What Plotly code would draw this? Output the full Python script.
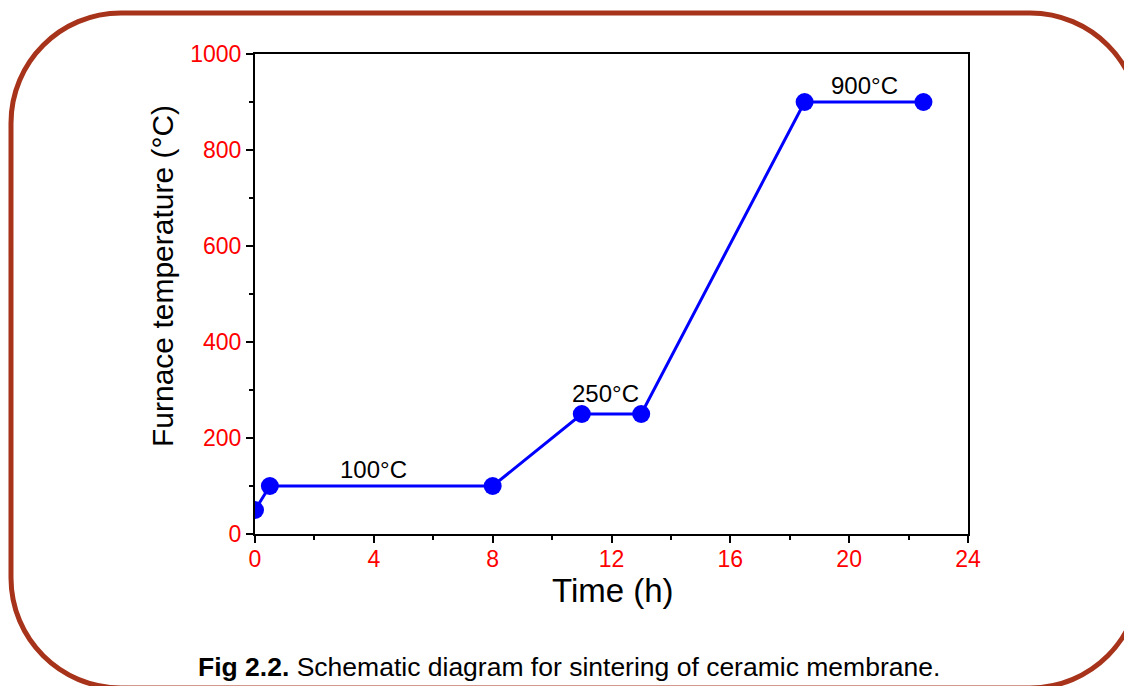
import plotly.graph_objects as go

# Sintering schedule: time (h) vs furnace temperature (°C)
time_h = [0, 0.5, 8, 11, 13, 18.5, 22.5]
temp_c = [50, 100, 100, 250, 250, 900, 900]

# Dwell labels: (x position in h, temperature of the dwell)
dwell_x = [4, 11.8, 20.5]
dwell_t = [100, 250, 900]

x_ticks = [0, 4, 8, 12, 16, 20, 24]
y_ticks = [0, 200, 400, 600, 800, 1000]

W, H = 1124, 686
L, R, T, B = 255, 968, 54, 534  # plot area in pixels
FONT = "Liberation Sans, Arial, sans-serif"


def px(xp):
    return (xp - L) / (R - L)


def py(yp):
    return (B - yp) / (B - T)


def rounded_rect(x0, y0, x1, y1, r):
    k = 0.5523 * r
    pts = [
        f"M {px(x0 + r)},{py(y0)}",
        f"L {px(x1 - r)},{py(y0)}",
        f"C {px(x1 - r + k)},{py(y0)} {px(x1)},{py(y0 + r - k)} {px(x1)},{py(y0 + r)}",
        f"L {px(x1)},{py(y1 - r)}",
        f"C {px(x1)},{py(y1 - r + k)} {px(x1 - r + k)},{py(y1)} {px(x1 - r)},{py(y1)}",
        f"L {px(x0 + r)},{py(y1)}",
        f"C {px(x0 + r - k)},{py(y1)} {px(x0)},{py(y1 - r + k)} {px(x0)},{py(y1 - r)}",
        f"L {px(x0)},{py(y0 + r)}",
        f"C {px(x0)},{py(y0 + r - k)} {px(x0 + r - k)},{py(y0)} {px(x0 + r)},{py(y0)}",
        "Z",
    ]
    return " ".join(pts)


fig = go.Figure()
fig.add_trace(go.Scatter(
    x=time_h, y=temp_c, mode="lines+markers",
    line=dict(color="#0000FF", width=3),
    marker=dict(color="#0000FF", size=18, symbol="circle"),
    cliponaxis=True, showlegend=False,
))

label_shift = [1, 5, 1]
for xv, tv, sh in zip(dwell_x, dwell_t, label_shift):
    fig.add_annotation(
        x=xv, y=tv, text=f"{tv}°C", showarrow=False,
        xanchor="center", yanchor="bottom", yshift=sh,
        font=dict(family=FONT, size=24, color="black"),
    )

# Axis titles
fig.add_annotation(
    xref="paper", yref="paper", x=px(162), y=py(276),
    text="Furnace temperature (°C)", textangle=-90, showarrow=False,
    xanchor="center", yanchor="middle",
    font=dict(family=FONT, size=30, color="black"),
)
fig.add_annotation(
    xref="paper", yref="paper", x=px(613), y=py(590),
    text="Time (h)", showarrow=False, xanchor="center", yanchor="middle",
    font=dict(family=FONT, size=33, color="black"),
)

# Figure caption
fig.add_annotation(
    xref="paper", yref="paper", x=px(569), y=py(667),
    text="<b>Fig 2.2.</b> Schematic diagram for sintering of ceramic membrane.",
    showarrow=False, xanchor="center", yanchor="middle",
    font=dict(family=FONT, size=26.5, color="black"),
)

# Rounded frame around the figure
fig.add_shape(
    type="path", xref="paper", yref="paper",
    path=rounded_rect(11, 13, 1140, 688, 110),
    line=dict(color="#A7331A", width=5), layer="above",
)

axis_common = dict(
    showgrid=False, zeroline=False, showline=True, linecolor="black",
    linewidth=2, mirror=True, ticks="outside", ticklen=7, tickwidth=2,
    tickcolor="black", tickfont=dict(family=FONT, size=23, color="red"),
)

fig.update_xaxes(
    range=[0, 24], tickvals=x_ticks, ticklabelstandoff=-4,
    minor=dict(ticks="outside", ticklen=4, tickwidth=2, tickcolor="black", dtick=2, tick0=0),
    **axis_common,
)
fig.update_yaxes(
    range=[0, 1000], tickvals=y_ticks,
    minor=dict(ticks="outside", ticklen=4, tickwidth=2, tickcolor="black", dtick=100, tick0=0),
    **axis_common,
)

fig.update_layout(
    width=W, height=H,
    margin=dict(l=L, r=W - R, t=T, b=H - B, autoexpand=False),
    paper_bgcolor="white", plot_bgcolor="white",
)

fig.write_html("out.html")
